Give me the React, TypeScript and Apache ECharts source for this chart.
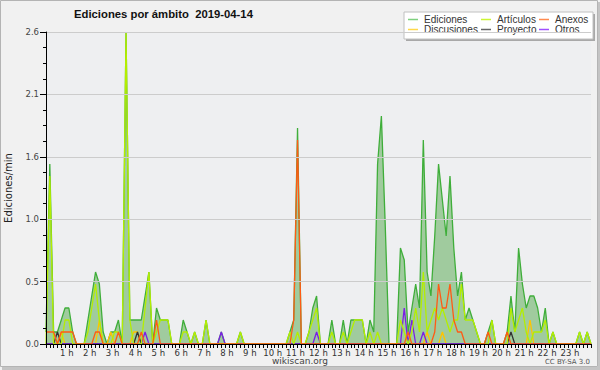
import React, { useEffect, useRef } from "react";
import * as echarts from "echarts";

// 10-minute slots, 0:00 .. 23:50
const slots: string[] = Array.from({ length: 144 }, (_, i) => `${Math.floor(i / 6)}:${String((i % 6) * 10).padStart(2, "0")}`);
const hourLabels: string[] = ["0 h","1 h","2 h","3 h","4 h","5 h","6 h","7 h","8 h","9 h","10 h","11 h","12 h","13 h","14 h","15 h","16 h","17 h","18 h","19 h","20 h","21 h","22 h","23 h"];
const yTicks: number[] = [0, 0.52, 1.04, 1.56, 2.08, 2.6];

const ediciones: number[] = [
  0.1, 1.5, 0.1, 0.1, 0.2, 0.3, 0.3, 0.1, 0, 0, 0, 0.2,
  0.4, 0.6, 0.5, 0.1, 0, 0.1, 0.1, 0.2, 0, 2.6, 0.2, 0.2,
  0.2, 0.2, 0.4, 0.6, 0, 0.3, 0.2, 0.2, 0.2, 0, 0, 0,
  0.2, 0.1, 0, 0.1, 0, 0, 0.2, 0, 0, 0, 0.1, 0,
  0, 0, 0, 0.1, 0, 0, 0, 0, 0, 0, 0, 0,
  0, 0, 0, 0, 0.1, 0.2, 1.8, 0, 0, 0.1, 0.3, 0.4,
  0, 0, 0, 0.2, 0, 0, 0.2, 0, 0.2, 0.2, 0.2, 0.2,
  0, 0.2, 0.1, 1.5, 1.9, 1.0, 0, 0, 0, 0.8, 0.7, 0.1,
  0.3, 0.5, 0.3, 1.7, 0.6, 0.4, 0.9, 1.5, 1.2, 0.9, 1.4, 0.8,
  0.4, 0.6, 0.2, 0.3, 0.2, 0.1, 0, 0, 0.1, 0.2, 0, 0,
  0, 0.1, 0.4, 0.1, 0.8, 0.5, 0.3, 0.4, 0.4, 0.3, 0.1, 0.3,
  0, 0.1, 0, 0, 0, 0, 0, 0, 0.1, 0, 0.1, 0,
];
const articulos: number[] = [
  0, 1.4, 0, 0, 0, 0.2, 0.2, 0, 0, 0, 0, 0.1,
  0.3, 0.5, 0.2, 0, 0, 0, 0.1, 0.1, 0, 2.6, 0.2, 0,
  0, 0, 0.3, 0.6, 0, 0.1, 0.2, 0.2, 0.2, 0, 0, 0,
  0.1, 0.1, 0, 0.1, 0, 0, 0.2, 0, 0, 0, 0, 0,
  0, 0, 0, 0.1, 0, 0, 0, 0, 0, 0, 0, 0,
  0, 0, 0, 0, 0.1, 0, 0.1, 0, 0, 0.1, 0.2, 0.3,
  0, 0, 0, 0.1, 0, 0, 0.1, 0, 0.1, 0.2, 0.2, 0.2,
  0, 0.1, 0, 0.1, 0, 0, 0, 0, 0, 0.2, 0.1, 0,
  0.1, 0.3, 0.1, 0.6, 0.1, 0.2, 0.3, 0.2, 0.3, 0.2, 0.1, 0.2,
  0.2, 0.5, 0.2, 0.2, 0.2, 0.1, 0, 0, 0, 0.2, 0, 0,
  0, 0, 0.3, 0.1, 0.2, 0.3, 0.1, 0, 0.1, 0.1, 0.1, 0.2,
  0, 0.1, 0, 0, 0, 0, 0, 0, 0.1, 0, 0.1, 0,
];
const anexos: number[] = [
  0.1, 0.1, 0.1, 0, 0.1, 0.1, 0.1, 0.1, 0, 0, 0, 0,
  0, 0.1, 0.1, 0, 0, 0, 0, 0.1, 0, 0, 0, 0,
  0, 0.1, 0, 0, 0, 0.2, 0, 0, 0, 0, 0, 0,
  0, 0, 0, 0, 0, 0, 0, 0, 0, 0, 0, 0,
  0, 0, 0, 0, 0, 0, 0, 0, 0, 0, 0, 0,
  0, 0, 0, 0, 0, 0.2, 1.7, 0, 0, 0, 0, 0,
  0, 0, 0, 0, 0, 0, 0, 0, 0, 0, 0, 0,
  0, 0, 0, 0, 0, 0, 0, 0, 0, 0, 0, 0.1,
  0, 0, 0, 0, 0, 0, 0.1, 0.5, 0.3, 0.3, 0.5, 0.2,
  0.1, 0.1, 0, 0, 0, 0, 0, 0, 0.1, 0, 0, 0,
  0, 0.1, 0, 0, 0, 0, 0, 0, 0, 0, 0, 0,
  0, 0, 0, 0, 0, 0, 0, 0, 0, 0, 0, 0,
];
const discusiones: number[] = [
  0, 0, 0, 0, 0.1, 0, 0, 0, 0, 0, 0, 0,
  0, 0, 0.2, 0, 0, 0.1, 0, 0, 0, 0, 0, 0.1,
  0.1, 0, 0, 0, 0, 0, 0, 0, 0, 0, 0, 0,
  0, 0, 0, 0, 0, 0, 0, 0, 0, 0, 0, 0,
  0, 0, 0, 0, 0, 0, 0, 0, 0, 0, 0, 0,
  0, 0, 0, 0, 0, 0, 0, 0, 0, 0, 0, 0,
  0, 0, 0, 0, 0, 0, 0, 0, 0, 0, 0, 0,
  0, 0, 0, 0, 0, 0, 0, 0, 0, 0, 0, 0,
  0, 0, 0, 0, 0.1, 0, 0, 0, 0.1, 0, 0, 0,
  0, 0, 0, 0, 0, 0, 0, 0, 0, 0, 0, 0,
  0, 0, 0, 0, 0, 0, 0, 0.2, 0, 0, 0, 0,
  0, 0, 0, 0, 0, 0, 0, 0, 0, 0, 0, 0,
];
const proyecto: number[] = [
  0, 0, 0, 0.1, 0, 0, 0, 0, 0, 0, 0, 0,
  0, 0, 0, 0, 0, 0, 0, 0, 0, 0, 0, 0,
  0.1, 0, 0, 0, 0, 0, 0, 0, 0, 0, 0, 0,
  0, 0, 0, 0, 0, 0, 0, 0, 0, 0, 0, 0,
  0, 0, 0, 0, 0, 0, 0, 0, 0, 0, 0, 0,
  0, 0, 0, 0, 0, 0, 0, 0, 0, 0, 0, 0,
  0, 0, 0, 0, 0, 0, 0, 0, 0, 0, 0, 0,
  0, 0, 0, 0, 0, 0, 0, 0, 0, 0, 0, 0,
  0, 0, 0, 0, 0, 0, 0, 0, 0, 0, 0, 0,
  0, 0, 0, 0, 0, 0, 0, 0, 0, 0, 0, 0,
  0, 0, 0.1, 0, 0, 0, 0, 0, 0, 0, 0, 0,
  0, 0, 0, 0, 0, 0, 0, 0, 0, 0, 0, 0,
];
const otros: number[] = [
  0, 0, 0, 0, 0, 0, 0, 0, 0, 0, 0, 0,
  0, 0, 0, 0, 0, 0, 0, 0, 0, 0, 0, 0,
  0, 0, 0.1, 0, 0, 0, 0, 0, 0, 0, 0, 0,
  0, 0, 0, 0, 0, 0, 0, 0, 0, 0, 0.1, 0,
  0, 0, 0, 0, 0, 0, 0, 0, 0, 0, 0, 0,
  0, 0, 0, 0, 0, 0, 0, 0, 0, 0, 0, 0.1,
  0, 0, 0, 0, 0, 0, 0, 0, 0, 0, 0, 0,
  0, 0, 0, 0, 0, 0, 0, 0, 0, 0, 0.3, 0,
  0.2, 0, 0, 0.1, 0, 0, 0, 0, 0, 0, 0, 0,
  0, 0, 0, 0, 0, 0, 0, 0, 0, 0, 0, 0,
  0, 0, 0, 0, 0, 0, 0, 0, 0, 0, 0, 0,
  0, 0, 0, 0, 0, 0, 0, 0, 0, 0, 0, 0,
];

const legendItems = [
  { name: "Ediciones", color: "#7fd07f", col: 0, row: 0 },
  { name: "Artículos", color: "#ccf533", col: 1, row: 0 },
  { name: "Anexos", color: "#ff8a4f", col: 2, row: 0 },
  { name: "Discusiones", color: "#ffd84a", col: 0, row: 1 },
  { name: "Proyecto", color: "#666666", col: 1, row: 1 },
  { name: "Otros", color: "#a050ff", col: 2, row: 1 },
];

const FONT = "Liberation Sans, Arial, sans-serif";

export default function App() {
  const ref = useRef<HTMLDivElement>(null);
  useEffect(() => {
    if (!ref.current) return;
    const chart = echarts.init(ref.current, undefined, { renderer: "svg" });
    const colX = [408, 481, 539];
    const rowY = [19.5, 29.5];
    const legendGraphics: any[] = [
      { type: "rect", shape: { x: 406, y: 14, width: 189, height: 27 }, style: { fill: "#a8a8a8" }, silent: true },
      { type: "rect", shape: { x: 404, y: 12, width: 189, height: 27 }, style: { fill: "#ffffff", stroke: "#c0c0c0", lineWidth: 1 }, silent: true },
    ];
    legendItems.forEach((it) => {
      const x = colX[it.col];
      const y = rowY[it.row];
      legendGraphics.push({ type: "line", shape: { x1: x, y1: y, x2: x + 10, y2: y }, style: { stroke: it.color, lineWidth: 1.5 }, silent: true });
      legendGraphics.push({ type: "text", x: x + 16, y, style: { text: it.name, fill: "#333", font: `10px ${FONT}`, textVerticalAlign: "middle" }, silent: true });
    });

    const lineSeries = (name: string, data: number[], color: string, z: number) => ({
      name, type: "line", data, showSymbol: false, symbol: "none", z, silent: true,
      lineStyle: { color, width: 1.3 },
    });

    chart.setOption({
      animation: false,
      backgroundColor: "#f1f1f1",
      title: {
        text: "Ediciones por ámbito  2019-04-14",
        left: 69, top: 3,
        textStyle: { fontFamily: FONT, fontWeight: "bold", fontSize: 11.3, color: "#111" },
      },
      grid: {
        left: 46, top: 32, width: 545, height: 312, show: true, backgroundColor: "#eeeff1", borderWidth: 0,
        containLabel: false, outerBoundsMode: "none",
      },
      xAxis: {
        type: "category", data: slots, boundaryGap: false, z: 20,
        axisLine: { lineStyle: { color: "#000", width: 1 } },
        axisTick: { show: true, interval: 0, length: 4, lineStyle: { color: "#000" } },
        axisLabel: {
          interval: (idx: number) => idx > 0 && idx % 6 === 0,
          formatter: (_v: string, idx: number) => hourLabels[Math.floor(idx / 6)],
          fontFamily: "DejaVu Sans", fontSize: 8.5, color: "#333", margin: 4,
          padding: [0, 4, 0, 0],
        },
        splitLine: { show: false },
      },
      yAxis: {
        type: "value", min: 0, max: 2.6, interval: yTicks[1], z: 20,
        name: "Ediciones/min", nameLocation: "middle", nameGap: 33, nameRotate: 90,
        nameTextStyle: { fontFamily: "DejaVu Sans", fontSize: 10, color: "#222" },
        axisLine: { show: true, lineStyle: { color: "#000", width: 1 } },
        axisTick: { show: true, length: 6, lineStyle: { color: "#000" } },
        minorTick: { show: true, splitNumber: 4, length: 3, lineStyle: { color: "#000" } },
        axisLabel: { formatter: (v: number) => v.toFixed(1), fontFamily: "DejaVu Sans", fontSize: 8.5, color: "#444", margin: 7 },
        splitLine: { show: true, lineStyle: { color: "#cccccc", width: 1 } },
      },
      graphic: [
        { type: "rect", shape: { x: 0.5, y: 0.5, width: 597, height: 366 }, style: { fill: "none", stroke: "#b4b4b4", lineWidth: 1 }, silent: true, z: -1 },
        { type: "rect", shape: { x: 598, y: 2, width: 2, height: 368 }, style: { fill: "#c4c4c4" }, silent: true, z: -1 },
        { type: "rect", shape: { x: 2, y: 367, width: 598, height: 3 }, style: { fill: "#c4c4c4" }, silent: true, z: -1 },
        ...legendGraphics,
        { type: "text", x: 300, y: 361, style: { text: "wikiscan.org", fill: "#444", font: `9px DejaVu Sans`, textAlign: "center", textVerticalAlign: "middle" }, silent: true },
        { type: "text", x: 590, y: 362, style: { text: "CC BY-SA 3.0", fill: "#555", font: `7px DejaVu Sans`, textAlign: "right", textVerticalAlign: "middle" }, silent: true },
      ],
      series: [
        { ...lineSeries("Ediciones", ediciones, "#3fae3a", 1), areaStyle: { color: "#a0cb9e", opacity: 1 }, lineStyle: { color: "#3fae3a", width: 1.3 } },
        lineSeries("Artículos", articulos, "#b4ee00", 6),
        lineSeries("Discusiones", discusiones, "#ffc400", 3),
        lineSeries("Proyecto", proyecto, "#333333", 4),
        lineSeries("Otros", otros, "#7a1fe6", 5),
        lineSeries("Anexos", anexos, "#ff5a14", 7),
      ],
    });
    return () => chart.dispose();
  }, []);
  return <div ref={ref} style={{ position: "fixed", left: 0, top: 0, width: 600, height: 370 }} />;
}
